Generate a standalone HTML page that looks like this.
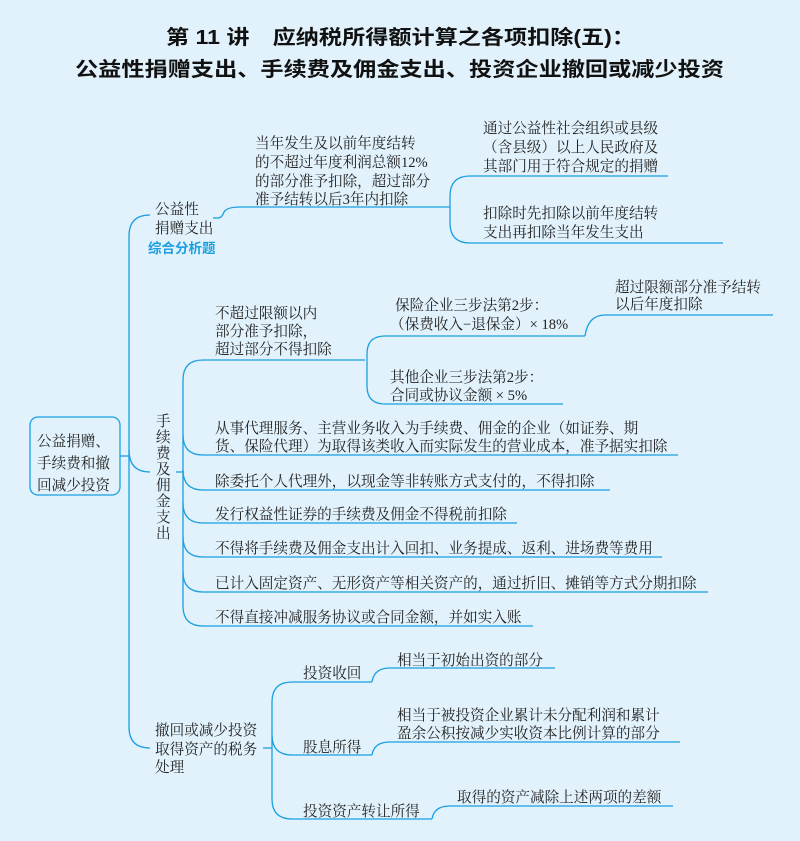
<!DOCTYPE html>
<html><head><meta charset="utf-8"><style>
html,body{margin:0;padding:0;background:#e1f2fc;}
svg{display:block}
text{font-family:"Liberation Serif","Noto Serif CJK SC","Noto Sans CJK SC",serif;font-size:14.6px;fill:#222;}
.t{font-family:"Liberation Sans","Noto Sans CJK SC",sans-serif;font-weight:bold;font-size:20px;fill:#111;}
.b{font-family:"Liberation Sans","Noto Sans CJK SC",sans-serif;font-weight:bold;fill:#1a9fe0;font-size:13.5px;}
.l{fill:none;stroke:#1a9fe0;stroke-width:1.3;}
</style></head><body>
<svg width="800" height="841" viewBox="0 0 800 841" xmlns="http://www.w3.org/2000/svg">
<rect width="800" height="841" fill="#e1f2fc"/>
<text class="t" x="166" y="44" textLength="469" lengthAdjust="spacingAndGlyphs">第 11 讲　应纳税所得额计算之各项扣除(五)：</text>
<text class="t" x="75" y="76" textLength="649" lengthAdjust="spacingAndGlyphs">公益性捐赠支出、手续费及佣金支出、投资企业撤回或减少投资</text>

<!-- root -->
<rect x="30" y="417" width="90" height="78" rx="8" class="l"/>
<text x="37" y="446">公益捐赠、</text>
<text x="37" y="468">手续费和撤</text>
<text x="37" y="490">回减少投资</text>
<path class="l" d="M120 456 H129"/>
<path class="l" d="M150 215 Q129 215 129 236 V727 Q129 748 150 748"/>
<path class="l" d="M129 450 Q129 472 150 472"/>

<!-- branch 1 -->
<text x="155" y="214">公益性</text>
<text x="155" y="233">捐赠支出</text>
<text class="b" x="148" y="253">综合分析题</text>
<path class="l" d="M213 218 H218 Q222 218 224 212 Q227 207 240 207 H450"/>
<text x="255" y="148">当年发生及以前年度结转</text>
<text x="255" y="167">的不超过年度利润总额12%</text>
<text x="255" y="186">的部分准予扣除，超过部分</text>
<text x="255" y="204">准予结转以后3年内扣除</text>
<path class="l" d="M668 176 H470 Q450 176 450 196 V223 Q450 243 470 243 H723"/>
<text x="483" y="133">通过公益性社会组织或县级</text>
<text x="483" y="152">（含县级）以上人民政府及</text>
<text x="483" y="171">其部门用于符合规定的捐赠</text>
<text x="483" y="218">扣除时先扣除以前年度结转</text>
<text x="483" y="237">支出再扣除当年发生支出</text>

<!-- branch 2 -->
<text x="156" y="426">手</text>
<text x="156" y="442">续</text>
<text x="156" y="458">费</text>
<text x="156" y="474">及</text>
<text x="156" y="490">佣</text>
<text x="156" y="506">金</text>
<text x="156" y="522">支</text>
<text x="156" y="538">出</text>
<path class="l" d="M176 472 H183"/>
<path class="l" d="M365 360 H203 Q183 360 183 380 V606 Q183 626 203 626 H533"/>
<path class="l" d="M183 435 Q183 455 203 455 H678"/>
<path class="l" d="M183 470 Q183 490 203 490 H610"/>
<path class="l" d="M183 503 Q183 523 203 523 H517"/>
<path class="l" d="M183 537 Q183 557 203 557 H662"/>
<path class="l" d="M183 572 Q183 592 203 592 H708"/>
<text x="215" y="318">不超过限额以内</text>
<text x="215" y="336">部分准予扣除，</text>
<text x="215" y="354">超过部分不得扣除</text>
<path class="l" d="M585 336 H385 Q367 336 367 354 V386 Q367 404 385 404 H563"/>
<path class="l" d="M585 336 Q588 315 605 315 H773"/>
<text x="395" y="310">保险企业三步法第2步：</text>
<text x="390" y="329">（保费收入−退保金）× 18%</text>
<text x="615" y="292">超过限额部分准予结转</text>
<text x="615" y="309">以后年度扣除</text>
<text x="390" y="382">其他企业三步法第2步：</text>
<text x="390" y="400">合同或协议金额 × 5%</text>
<text x="215" y="433">从事代理服务、主营业务收入为手续费、佣金的企业（如证券、期</text>
<text x="215" y="451">货、保险代理）为取得该类收入而实际发生的营业成本，准予据实扣除</text>
<text x="215" y="486">除委托个人代理外，以现金等非转账方式支付的，不得扣除</text>
<text x="215" y="519">发行权益性证券的手续费及佣金不得税前扣除</text>
<text x="215" y="553">不得将手续费及佣金支出计入回扣、业务提成、返利、进场费等费用</text>
<text x="215" y="588">已计入固定资产、无形资产等相关资产的，通过折旧、摊销等方式分期扣除</text>
<text x="215" y="622">不得直接冲减服务协议或合同金额，并如实入账</text>

<!-- branch 3 -->
<text x="155" y="735">撤回或减少投资</text>
<text x="155" y="754">取得资产的税务</text>
<text x="155" y="772">处理</text>
<path class="l" d="M263 748 H272"/>
<path class="l" d="M372 682 H292 Q272 682 272 702 V799 Q272 819 292 819 H432"/>
<path class="l" d="M272 735 Q272 755 292 755 H372"/>
<path class="l" d="M372 682 Q374 668 390 668 H555"/>
<path class="l" d="M372 755 Q374 742 390 742 H680"/>
<path class="l" d="M432 819 Q434 806 450 806 H673"/>
<text x="303" y="678">投资收回</text>
<text x="397" y="665">相当于初始出资的部分</text>
<text x="303" y="752">股息所得</text>
<text x="397" y="720">相当于被投资企业累计未分配利润和累计</text>
<text x="397" y="738">盈余公积按减少实收资本比例计算的部分</text>
<text x="303" y="816">投资资产转让所得</text>
<text x="457" y="802">取得的资产减除上述两项的差额</text>
</svg>
</body></html>
